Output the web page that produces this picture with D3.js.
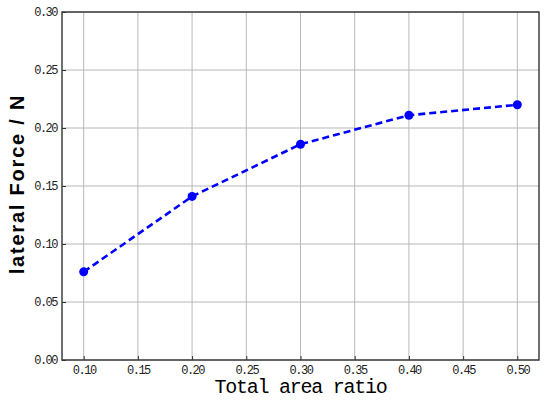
<!DOCTYPE html>
<html><head><meta charset="utf-8">
<script src="https://cdn.jsdelivr.net/npm/d3@7"></script>
<style>body{margin:0;background:#fff}</style>
</head><body>
<svg id="c" width="550" height="402"></svg>
<script>
const xValues = [0.10, 0.20, 0.30, 0.40, 0.50];
const forceValues = [0.076, 0.141, 0.186, 0.211, 0.220];
const xTicks = [0.10, 0.15, 0.20, 0.25, 0.30, 0.35, 0.40, 0.45, 0.50];
const yTicks = [0.00, 0.05, 0.10, 0.15, 0.20, 0.25, 0.30];
const xTitle = "Total area ratio";
const yTitle = "lateral Force / N";

const svg = d3.select("#c");
const m = {l:62, t:12, r:539, b:360};
const x = d3.scaleLinear().domain([0.08, 0.52]).range([m.l, m.r]);
const y = d3.scaleLinear().domain([0, 0.30]).range([m.b, m.t]);

// grid
svg.append("g").selectAll("line").data(xTicks).join("line")
  .attr("x1", d=>x(d)).attr("x2", d=>x(d)).attr("y1", m.t).attr("y2", m.b)
  .attr("stroke", "#b8b8b8").attr("stroke-width", 1);
svg.append("g").selectAll("line").data(yTicks).join("line")
  .attr("x1", m.l).attr("x2", m.r).attr("y1", d=>y(d)).attr("y2", d=>y(d))
  .attr("stroke", "#b8b8b8").attr("stroke-width", 1);

const tickFont = "'Liberation Mono', 'DejaVu Sans Mono', monospace";
const xAxis = svg.append("g").attr("transform", `translate(0,${m.b})`)
  .call(d3.axisBottom(x).tickValues(xTicks).tickFormat(d3.format(".2f")).tickSizeInner(-4).tickSizeOuter(0).tickPadding(5));
const yAxis = svg.append("g").attr("transform", `translate(${m.l},0)`)
  .call(d3.axisLeft(y).tickValues(yTicks).tickFormat(d3.format(".2f")).tickSizeInner(-4).tickSizeOuter(0).tickPadding(5));
[xAxis, yAxis].forEach(a => {
  a.select(".domain").remove();
  a.selectAll(".tick line").attr("stroke", "#333").attr("stroke-width", 1);
  a.selectAll("text").attr("font-family", tickFont).attr("font-size", 12)
    .attr("letter-spacing", "-1.5px").attr("fill", "#222");
});

// frame
svg.append("rect").attr("x", m.l).attr("y", m.t).attr("width", m.r-m.l).attr("height", m.b-m.t)
  .attr("fill", "none").attr("stroke", "#333").attr("stroke-width", 1.4);

// line
const line = d3.line().x((d,i)=>x(xValues[i])).y(d=>y(d));
svg.append("path").datum(forceValues).attr("d", line)
  .attr("fill", "none").attr("stroke", "#0000ff").attr("stroke-width", 2.6)
  .attr("stroke-dasharray", "7,4");
svg.append("g").selectAll("circle").data(forceValues).join("circle")
  .attr("cx", (d,i)=>x(xValues[i])).attr("cy", d=>y(d)).attr("r", 4.5).attr("fill", "#0000ff");

// titles
svg.append("text").attr("x", (m.l+m.r)/2).attr("y", 393).attr("text-anchor", "middle")
  .attr("font-family", "'Liberation Mono', 'DejaVu Sans Mono', monospace").attr("font-size", 20)
  .attr("letter-spacing", "-1.25px").attr("fill", "#000").text(xTitle);
svg.append("text").attr("transform", `translate(24,184) rotate(-90)`).attr("text-anchor", "middle")
  .attr("font-family", "'Liberation Sans', Arial, sans-serif").attr("font-size", 20).attr("font-weight", "bold")
  .attr("letter-spacing", "1.8px").attr("fill", "#000").text(yTitle);
</script>
</body></html>
